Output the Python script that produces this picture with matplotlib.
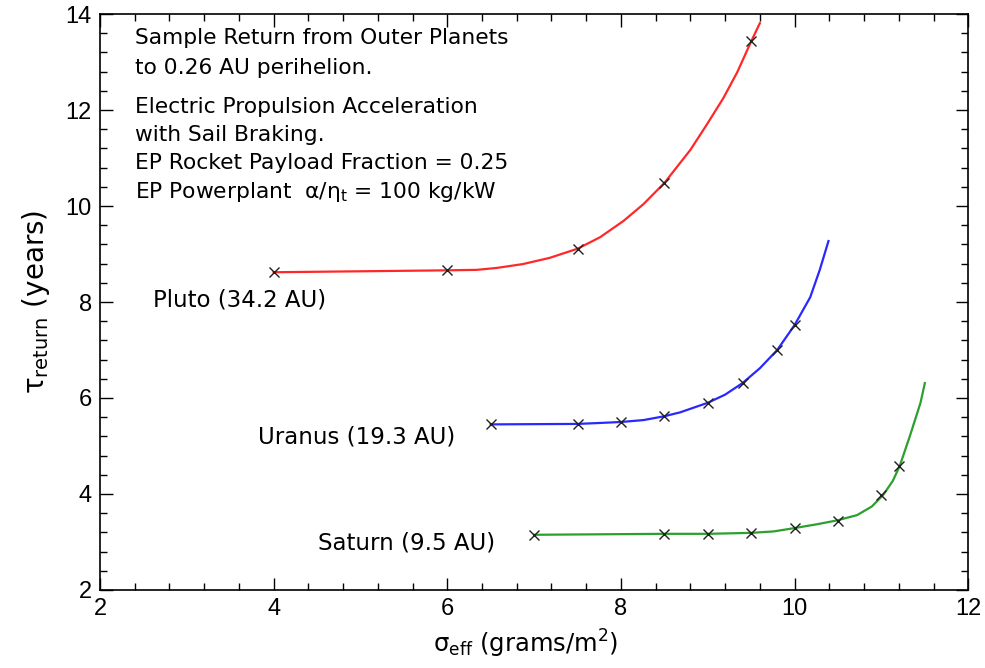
import matplotlib
matplotlib.use("Agg")
import matplotlib.pyplot as plt
from matplotlib.ticker import MultipleLocator

plt.rcParams['font.family'] = ['DejaVu Sans']
plt.rcParams['mathtext.fontset'] = 'dejavusans'

# Marker data (sigma_eff, tau_return)
pluto_x = [4, 6, 7.5, 8.5, 9.5]
pluto_y = [8.62, 8.66, 9.11, 10.48, 13.43]
uranus_x = [6.5, 7.5, 8, 8.5, 9, 9.4, 9.8, 10]
uranus_y = [5.45, 5.46, 5.5, 5.62, 5.9, 6.31, 7.0, 7.52]
saturn_x = [7, 8.5, 9, 9.5, 10, 10.5, 11, 11.2]
saturn_y = [3.15, 3.17, 3.17, 3.19, 3.29, 3.44, 3.98, 4.58]

# Curve paths
pluto_cx = [4, 6, 6.34, 6.57, 6.87, 7.18, 7.5, 7.76, 8.03, 8.26, 8.5, 8.8, 8.99,
            9.18, 9.34, 9.5, 9.6]
pluto_cy = [8.62, 8.66, 8.67, 8.71, 8.79, 8.92, 9.11, 9.35, 9.69, 10.04, 10.48,
            11.17, 11.7, 12.25, 12.79, 13.43, 13.81]
uranus_cx = [6.5, 7.5, 7.76, 8.0, 8.26, 8.5, 8.68, 9.0, 9.2, 9.4, 9.6, 9.8, 10.0,
             10.18, 10.29, 10.39]
uranus_cy = [5.45, 5.46, 5.48, 5.5, 5.54, 5.62, 5.7, 5.9, 6.07, 6.31, 6.62, 7.0,
             7.52, 8.1, 8.67, 9.27]
saturn_cx = [7, 8.5, 9, 9.5, 9.76, 10.0, 10.26, 10.49, 10.72, 10.89, 11.02, 11.13,
             11.21, 11.33, 11.45, 11.5]
saturn_cy = [3.15, 3.17, 3.17, 3.19, 3.22, 3.29, 3.37, 3.45, 3.56, 3.74, 3.98, 4.27,
             4.58, 5.22, 5.9, 6.31]

fig = plt.figure(figsize=(9.85, 6.68), dpi=100)
ax = fig.add_axes([0.1015, 0.1168, 0.8815, 0.8622])

ax.plot(pluto_cx, pluto_cy, color='#ff2828', lw=1.6)
ax.plot(uranus_cx, uranus_cy, color='#2828ff', lw=1.6)
ax.plot(saturn_cx, saturn_cy, color='#2ca02c', lw=1.6)
for xs, ys in [(pluto_x, pluto_y), (uranus_x, uranus_y), (saturn_x, saturn_y)]:
    ax.plot(xs, ys, ls='none', marker='x', color='#202020', ms=7, mew=1.0)

ax.set_xlim(2, 12)
ax.set_ylim(2, 14)
ax.xaxis.set_major_locator(MultipleLocator(2))
ax.xaxis.set_minor_locator(MultipleLocator(0.4))
ax.yaxis.set_major_locator(MultipleLocator(2))
ax.yaxis.set_minor_locator(MultipleLocator(0.4))
ax.tick_params(which='both', direction='in', top=True, right=True, width=1.0)
ax.tick_params(which='major', length=9, pad=6)
ax.tick_params(which='minor', length=5)
for lab in ax.get_xticklabels() + ax.get_yticklabels():
    lab.set_fontfamily('Liberation Sans')
    lab.set_fontsize(17)
for s in ax.spines.values():
    s.set_linewidth(1.2)

ax.set_xlabel(r"σ$_{\mathrm{eff}}$ (grams/m$^2$)", fontsize=17.5)
ax.xaxis.set_label_coords(0.49, -0.066)
ax.set_ylabel(r"τ$_{\mathrm{return}}$ (years)", fontsize=20, labelpad=10)

ax.text(2.61, 8.04, "Pluto (34.2 AU)", fontsize=16.5, va='center', ha='left')
ax.text(3.82, 5.19, "Uranus (19.3 AU)", fontsize=16.5, va='center', ha='left')
ax.text(4.51, 2.98, "Saturn (9.5 AU)", fontsize=16.5, va='center', ha='left')

notes = [
    ("Sample Return from Outer Planets", 38),
    ("to 0.26 AU perihelion.", 68),
    ("Electric Propulsion Acceleration", 107),
    ("with Sail Braking.", 135),
    ("EP Rocket Payload Fraction = 0.25", 163),
    (r"EP Powerplant  α/η$_{\mathrm{t}}$ = 100 kg/kW", 192),
]
for t, py in notes:
    ax.text(135 / 985, 1 - py / 668, t, transform=fig.transFigure, fontsize=15.7,
            va='center', ha='left')

fig.savefig("out.png", dpi=100)
